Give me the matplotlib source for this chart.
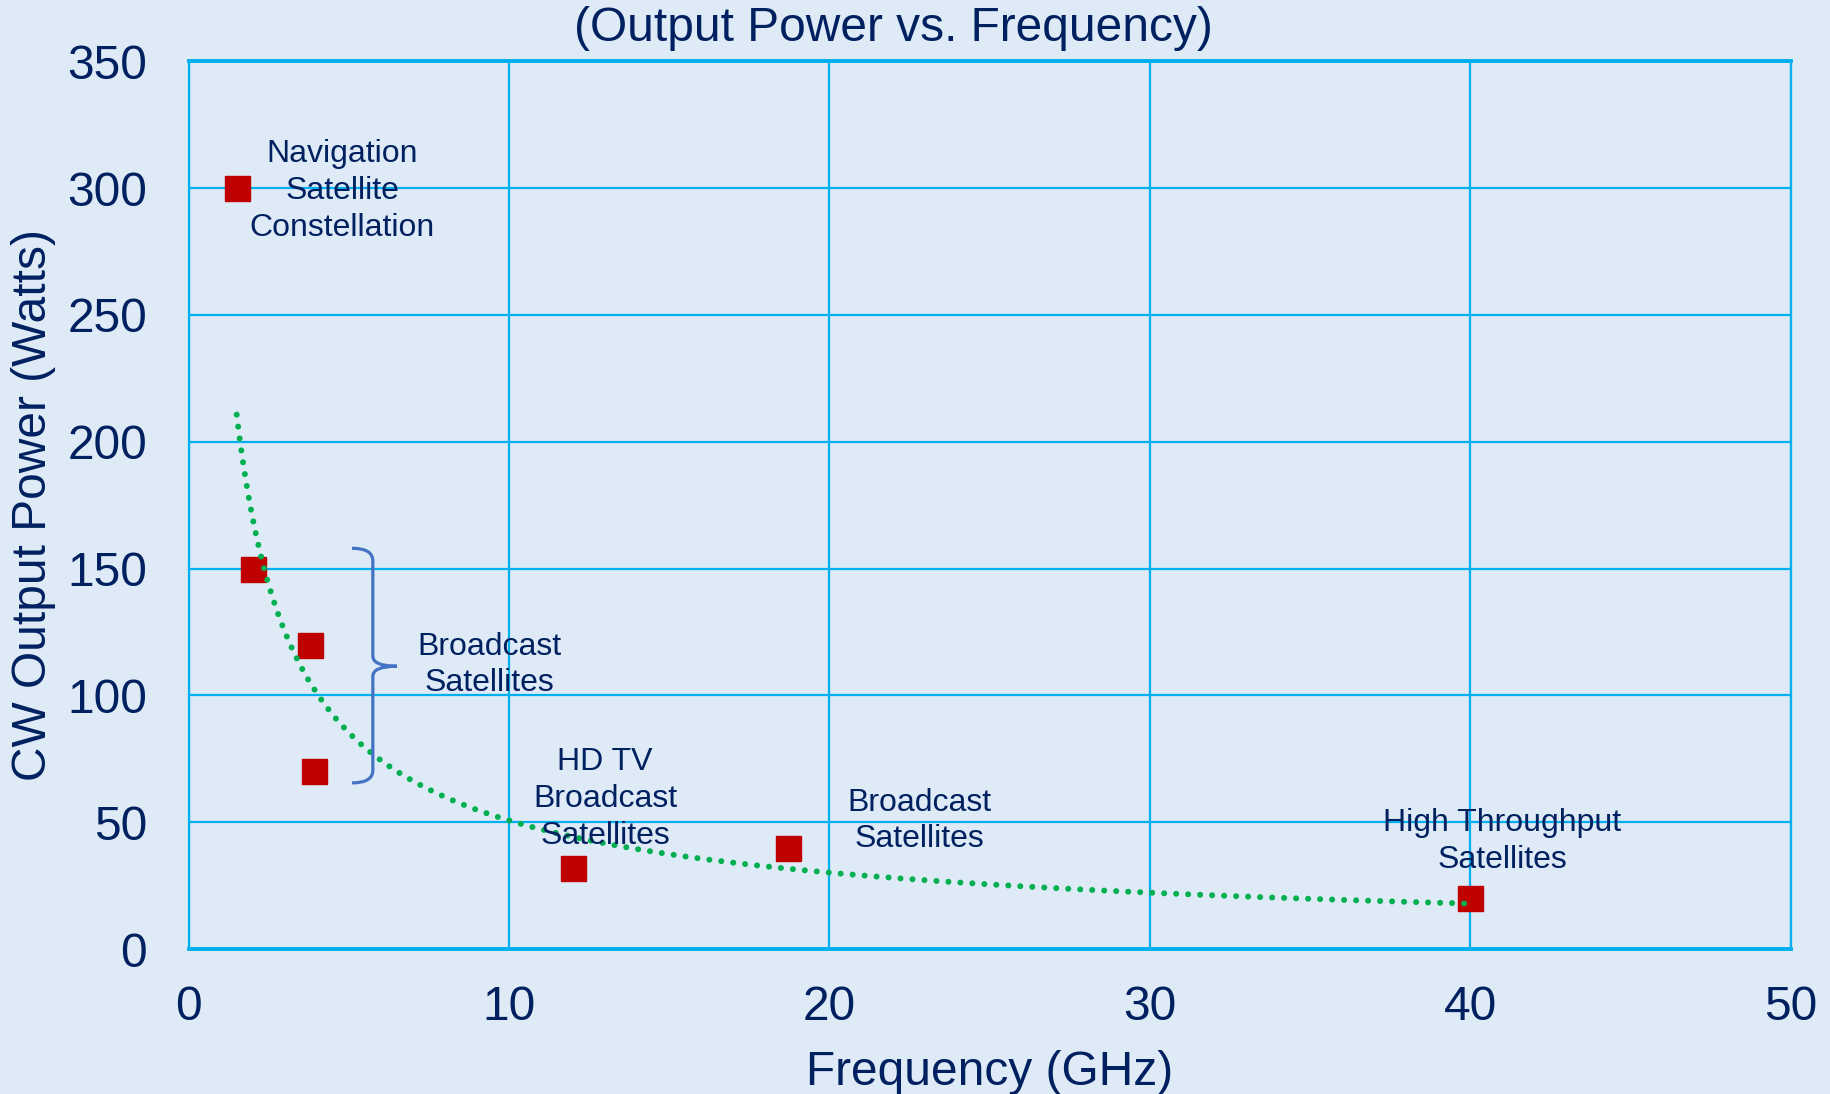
import numpy as np
import matplotlib
matplotlib.use('Agg')
import matplotlib.pyplot as plt
from matplotlib.path import Path
from matplotlib.patches import PathPatch

plt.rcParams['font.family'] = ['Liberation Sans', 'DejaVu Sans']

# data
freq_ghz = [1.5, 2.0, 3.8, 3.9, 12.0, 18.7, 40.0]
power_w = [300, 150, 120, 70, 32, 40, 20]

labels = ['Navigation\nSatellite\nConstellation', 'Broadcast\nSatellites',
          'HD TV\nBroadcast\nSatellites', 'Broadcast\nSatellites',
          'High Throughput\nSatellites']
label_x = [4.8, 9.4, 13.0, 22.8, 41.0]
label_y = [299, 112, 59, 50.5, 42.5]

x_ticks = [0, 10, 20, 30, 40, 50]
y_ticks = [0, 50, 100, 150, 200, 250, 300, 350]

bg = '#DEEAF6'
navy = '#002060'
grid_col = '#00B0F0'

fig = plt.figure(figsize=(18.31, 10.94), dpi=100, facecolor=bg)
ax = fig.add_axes([0.103, 0.1325, 0.875, 0.8115])
ax.set_facecolor(bg)

# power trendline (like Excel's power fit)
b, ln_a = np.polyfit(np.log(freq_ghz), np.log(power_w), 1)
xs = np.linspace(min(freq_ghz), max(freq_ghz), 400)
ax.plot(xs, np.exp(ln_a) * xs ** b, color='#00B050', lw=4.3,
        linestyle=(0, (0.01, 2.0)), dash_capstyle='round', zorder=4)

ax.plot(freq_ghz, power_w, 's', color='#C00000', markersize=18, zorder=3)

for txt, lx, ly in zip(labels, label_x, label_y):
    ax.text(lx, ly, txt, ha='center', va='center', fontsize=23, color=navy,
            linespacing=1.3, zorder=5)

# curly bracket grouping the broadcast satellites
x0, x1, x2 = 5.1, 5.75, 6.5
ytop, ymid, ybot = 158, 111.5, 65.5
verts = [(x0, ytop), (x1, ytop), (x1, ytop - 5),
         (x1, ymid + 4), (x1, ymid), (x2, ymid),
         (x1, ymid), (x1, ymid - 4),
         (x1, ybot + 5), (x1, ybot), (x0, ybot)]
codes = [Path.MOVETO, Path.CURVE3, Path.CURVE3,
         Path.LINETO, Path.CURVE3, Path.CURVE3,
         Path.CURVE3, Path.CURVE3,
         Path.LINETO, Path.CURVE3, Path.CURVE3]
ax.add_patch(PathPatch(Path(verts, codes), fill=False, edgecolor='#4472C4',
                       lw=2.3, zorder=5))

ax.set_xlim(0, 50)
ax.set_ylim(0, 350)
ax.set_xticks(x_ticks)
ax.set_yticks(y_ticks)
ax.grid(True, color=grid_col, lw=1.6)
ax.set_axisbelow(True)
ax.tick_params(length=0, labelsize=34.5, labelcolor=navy)
ax.tick_params(axis='x', pad=26)
ax.tick_params(axis='y', pad=30)
for side in ['left', 'right']:
    ax.spines[side].set_color(grid_col)
    ax.spines[side].set_linewidth(1.6)
for side in ['top', 'bottom']:
    ax.spines[side].set_color(grid_col)
    ax.spines[side].set_linewidth(2.8)

ax.set_xlabel('Frequency (GHz)', fontsize=34.5, color=navy, labelpad=14)
ax.set_ylabel('CW Output Power (Watts)', fontsize=34.5, color=navy, labelpad=8)
fig.text(0.488, 0.974, '(Output Power vs. Frequency)', ha='center', va='center',
         fontsize=34.5, color=navy)

fig.savefig('out.png', dpi=100, facecolor=bg)
